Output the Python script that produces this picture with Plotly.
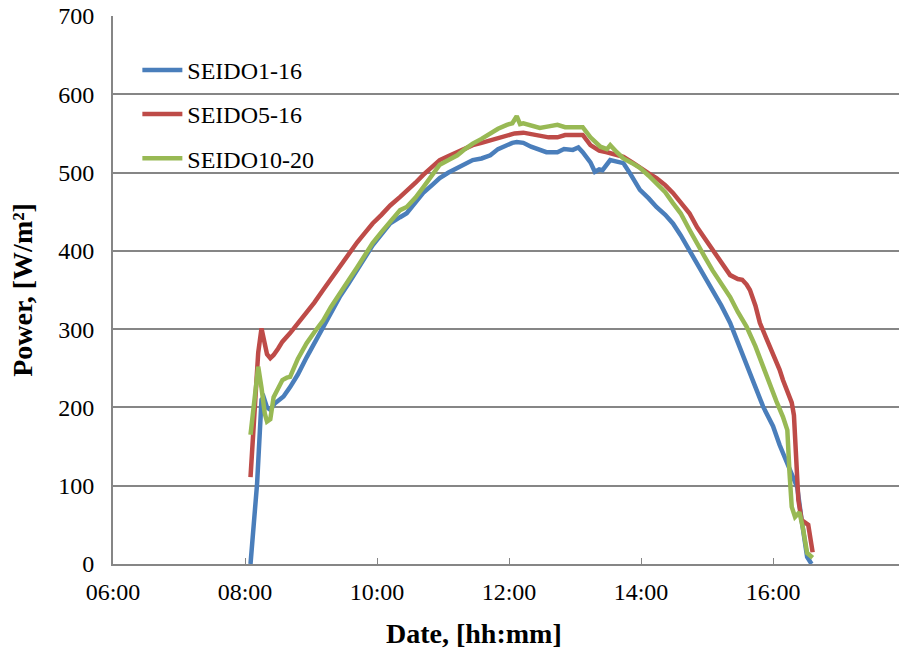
import plotly.graph_objects as go

DAY = "2020-01-01 "

blue_t = ["08:05","08:11","08:15","08:17","08:20","08:23","08:27","08:30","08:35","08:41","08:48","08:56","09:03","09:11","09:18","09:26","09:34","09:42","09:49","09:56","10:04","10:12","10:21","10:27","10:35","10:42","10:50","10:57","11:05","11:13","11:20","11:27","11:35","11:43","11:50","11:58","12:03","12:07","12:13","12:20","12:28","12:34","12:44","12:50","12:58","13:03","13:07","13:14","13:18","13:22","13:25","13:29","13:32","13:38","13:44","13:50","13:55","13:59","14:07","14:14","14:22","14:29","14:36","14:44","14:51","14:58","15:05","15:13","15:21","15:28","15:36","15:44","15:51","15:57","16:00","16:06","16:13","16:18","16:22","16:26","16:31","16:35"]
blue_v = [0,103,210,213,200,197,205,208,214,226,242,264,282,303,320,341,358,375,392,407,421,435,443,448,462,474,484,493,500,506,512,516,518,522,530,535,538,539,538,533,529,526,526,530,529,532,526,513,501,504,503,510,516,514,512,499,488,478,467,456,446,435,420,401,384,368,350,330,308,282,252,226,201,184,176,152,129,112,98,56,9,0]

red_t = ["08:05","08:09","08:12","08:15","08:17","08:20","08:23","08:26","08:30","08:34","08:41","08:48","08:56","09:03","09:11","09:18","09:26","09:34","09:42","09:49","09:56","10:04","10:12","10:21","10:27","10:35","10:42","10:50","10:57","11:05","11:13","11:20","11:27","11:35","11:43","11:50","11:58","12:05","12:13","12:20","12:28","12:36","12:44","12:51","12:58","13:07","13:14","13:22","13:29","13:37","13:44","13:52","13:59","14:07","14:14","14:22","14:29","14:36","14:44","14:51","14:58","15:05","15:13","15:21","15:28","15:32","15:36","15:39","15:44","15:48","15:54","16:00","16:06","16:09","16:13","16:17","16:19","16:20","16:23","16:26","16:32","16:36"]
red_v = [111,200,270,301,290,268,263,267,275,284,295,307,320,334,350,364,379,395,411,423,435,446,458,469,476,487,497,507,516,521,526,531,535,538,541,545,548,550,551,549,548,545,545,548,548,548,535,528,526,522,520,513,506,499,493,484,474,461,448,430,416,401,385,369,364,363,357,350,330,308,288,269,248,235,220,206,190,158,82,56,50,15]

green_t = ["08:05","08:08","08:12","08:15","08:18","08:20","08:23","08:26","08:30","08:34","08:38","08:41","08:48","08:56","09:03","09:11","09:18","09:26","09:34","09:42","09:49","09:56","10:04","10:12","10:21","10:27","10:35","10:42","10:50","10:57","11:05","11:13","11:20","11:27","11:35","11:43","11:50","11:58","12:03","12:07","12:10","12:13","12:20","12:28","12:36","12:44","12:51","12:58","13:07","13:14","13:23","13:29","13:32","13:38","13:44","13:52","13:59","14:07","14:14","14:22","14:29","14:36","14:44","14:51","14:58","15:05","15:13","15:21","15:28","15:36","15:44","15:51","15:57","16:03","16:09","16:13","16:15","16:17","16:20","16:24","16:27","16:31","16:36"]
green_v = [165,205,252,225,192,182,185,213,225,235,238,239,262,282,296,311,328,346,362,379,395,410,424,437,452,456,468,481,496,510,516,522,530,537,543,550,556,561,563,572,562,563,560,557,559,561,558,558,558,545,533,530,535,526,518,512,506,496,487,475,461,448,427,408,392,375,358,341,322,303,278,252,228,208,188,171,116,73,60,66,47,14,8]

series = [
    ("SEIDO1-16", blue_t, blue_v, "#4A7EBB"),
    ("SEIDO5-16", red_t, red_v, "#BE4B48"),
    ("SEIDO10-20", green_t, green_v, "#98B954"),
]

x_ticks = ["06:00", "08:00", "10:00", "12:00", "14:00", "16:00"]
y_ticks = [0, 100, 200, 300, 400, 500, 600, 700]

FONT = "Liberation Serif, Times New Roman, serif"
GRID = "#868686"

fig = go.Figure()
for i, (name, t, v, c) in enumerate(series):
    fig.add_trace(go.Scatter(
        x=[DAY + s for s in t], y=v, name=name, mode="lines",
        line=dict(color=c, width=4.5), legendgroup=name,
    ))

fig.update_layout(
    width=899, height=656,
    margin=dict(l=113, r=0, t=16, b=92),
    plot_bgcolor="white", paper_bgcolor="white",
    font=dict(family=FONT, size=24, color="black"),
    showlegend=True,
    legend=dict(x=0.031, y=0.942, xanchor="left", yanchor="top",
                bgcolor="rgba(0,0,0,0)", font=dict(size=24, family=FONT),
                traceorder="grouped", tracegroupgap=10, itemwidth=40),
    xaxis=dict(
        type="date",
        range=[DAY + "06:00", DAY + "17:54:30"],
        tickvals=[DAY + s for s in x_ticks], ticktext=x_ticks,
        ticks="inside", ticklen=6, tickcolor=GRID, tickwidth=1,
        showgrid=False, showline=True, linecolor=GRID, linewidth=2,
        zeroline=False, tickfont=dict(size=24, family=FONT),
        ticklabelstandoff=5,
    ),
    yaxis=dict(
        range=[0, 700], tickvals=y_ticks,
        showgrid=True, gridcolor=GRID, gridwidth=1.5,
        showline=True, linecolor=GRID, linewidth=2,
        ticks="", zeroline=False, tickfont=dict(size=24, family=FONT),
        ticklabelstandoff=12,
    ),
    annotations=[
        dict(text="<b>Date, [hh:mm]</b>", xref="paper", yref="paper",
             x=(474 - 113) / 786, y=-0.126, xanchor="center", yanchor="middle",
             showarrow=False, font=dict(size=28, family=FONT)),
        dict(text="<b>Power, [W/m²]</b>", xref="paper", yref="paper",
             x=-0.116, y=0.5, xanchor="center", yanchor="middle", textangle=-90,
             showarrow=False, font=dict(size=28, family=FONT)),
    ],
)

fig.write_html("out.html")
